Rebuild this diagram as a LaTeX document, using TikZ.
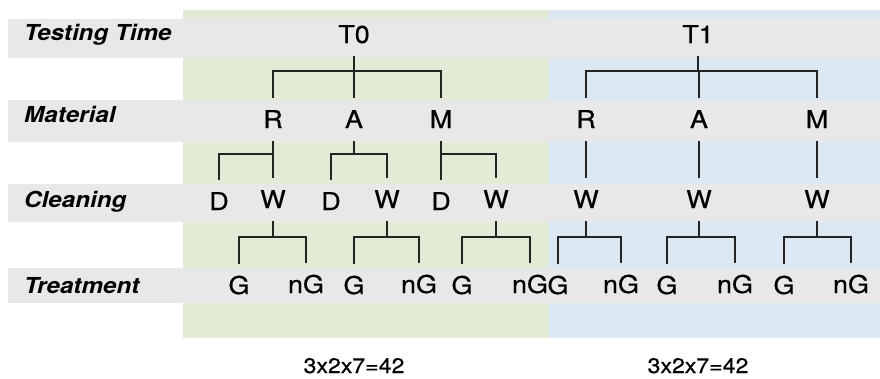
\documentclass[tikz,border=0pt]{standalone}
\usepackage{fontspec}
\setmainfont[FakeStretch=1.1]{TeX Gyre Heros}
\newfontfamily\treefont[FakeStretch=1.1,FakeBold=0.6]{TeX Gyre Heros}
\definecolor{bandgrey}{RGB}{232,232,232}
\definecolor{greenzone}{RGB}{226,235,214}
\definecolor{bluezone}{RGB}{220,231,244}
\definecolor{linegrey}{RGB}{35,35,35}
% elbow connector: parent -> bar level -> child
\newcommand\treeedge[3]{\draw[conn] (#1.south) |- (#2.north |- #3) -- (#2.north);}
\begin{document}
\begin{tikzpicture}[x=1pt,y=-1pt,
  levellabel/.style={anchor=base west,inner sep=0pt,font=\fontsize{22}{26}\selectfont\bfseries\itshape},
  leaf/.style={anchor=base,inner sep=0pt,outer xsep=0pt,outer ysep=13pt,text height=17pt,text depth=0pt,font=\treefont\fontsize{24.5}{28}\selectfont},
  conn/.style={draw=linegrey,line width=1.8pt},
  total/.style={anchor=base,inner sep=0pt,font=\treefont\fontsize{21}{25}\selectfont}]
\useasboundingbox (0,0) rectangle (880,378);

% time zones
\fill[greenzone] (183,10) rectangle (549,338);
\fill[bluezone] (549,10) rectangle (880,338);

% level bands
\fill[bandgrey] (8,19) rectangle (880,58);
\fill[bandgrey] (8,100) rectangle (880,142);
\fill[bandgrey] (8,184) rectangle (880,222);
\fill[bandgrey] (8,268) rectangle (880,303);

% level labels
\node[levellabel] (lbltime) at (24,40) {Testing Time};
\node[levellabel] (lblmat) at (24,122) {Material};
\node[levellabel] (lblclean) at (24,207) {Cleaning};
\node[levellabel] (lbltreat) at (24,293) {Treatment};

% bar levels
\coordinate (bar0) at (0,71);
\coordinate (bar1) at (0,154);
\coordinate (bar2) at (0,237);

% testing time
\node[leaf] (T0) at (354,43) {T0};
\node[leaf] (T1) at (698,43) {T1};

% material
\node[leaf] (R0) at (273,128) {R};
\node[leaf] (A0) at (354,128) {A};
\node[leaf] (M0) at (441,128) {M};
\node[leaf] (R1) at (586,128) {R};
\node[leaf] (A1) at (699,128) {A};
\node[leaf] (M1) at (817,128) {M};

% cleaning
\node[leaf] (D1) at (219,210) {D};
\node[leaf] (W1) at (273,208) {W};
\node[leaf] (D2) at (331,210) {D};
\node[leaf] (W2) at (387,208) {W};
\node[leaf] (D3) at (441,210) {D};
\node[leaf] (W3) at (496,208) {W};
\node[leaf] (W4) at (586,208) {W};
\node[leaf] (W5) at (699,208) {W};
\node[leaf] (W6) at (817,208) {W};

% treatment
\node[leaf] (G1) at (239,294) {G};
\node[leaf] (N1) at (306,293) {nG};
\node[leaf] (G2) at (354,294) {G};
\node[leaf] (N2) at (419,293) {nG};
\node[leaf] (G3) at (462,294) {G};
\node[leaf] (N3) at (530,293) {nG};
\node[leaf] (G4) at (558,294) {G};
\node[leaf] (N4) at (621,293) {nG};
\node[leaf] (G5) at (667,294) {G};
\node[leaf] (N5) at (735,293) {nG};
\node[leaf] (G6) at (784,294) {G};
\node[leaf] (N6) at (851,293) {nG};

% totals
\node[total] (tot0) at (354,373) {3x2x7=42};
\node[total] (tot1) at (698,373) {3x2x7=42};

% time -> material
\treeedge{T0}{R0}{bar0}
\treeedge{T0}{A0}{bar0}
\treeedge{T0}{M0}{bar0}
\treeedge{T1}{R1}{bar0}
\treeedge{T1}{A1}{bar0}
\treeedge{T1}{M1}{bar0}

% material -> cleaning
\treeedge{R0}{D1}{bar1}
\treeedge{R0}{W1}{bar1}
\treeedge{A0}{D2}{bar1}
\treeedge{A0}{W2}{bar1}
\treeedge{M0}{D3}{bar1}
\treeedge{M0}{W3}{bar1}
\treeedge{R1}{W4}{bar1}
\treeedge{A1}{W5}{bar1}
\treeedge{M1}{W6}{bar1}

% cleaning -> treatment
\treeedge{W1}{G1}{bar2}
\treeedge{W1}{N1}{bar2}
\treeedge{W2}{G2}{bar2}
\treeedge{W2}{N2}{bar2}
\treeedge{W3}{G3}{bar2}
\treeedge{W3}{N3}{bar2}
\treeedge{W4}{G4}{bar2}
\treeedge{W4}{N4}{bar2}
\treeedge{W5}{G5}{bar2}
\treeedge{W5}{N5}{bar2}
\treeedge{W6}{G6}{bar2}
\treeedge{W6}{N6}{bar2}
\end{tikzpicture}
\end{document}
